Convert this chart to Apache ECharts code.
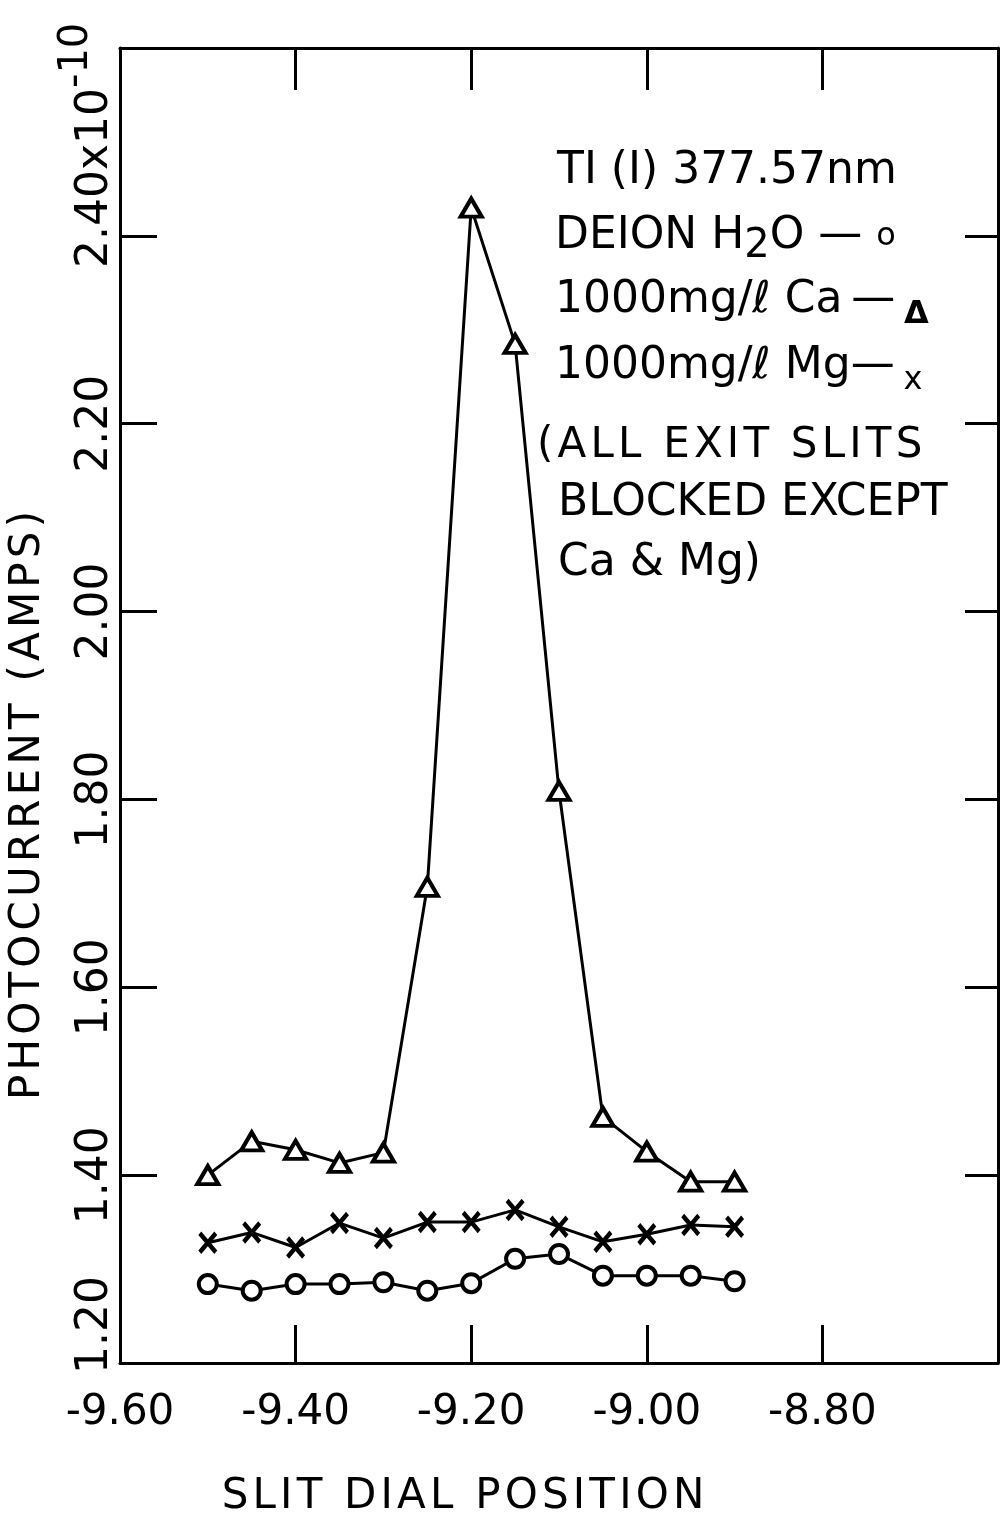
<!DOCTYPE html>
<html>
<head>
<meta charset="utf-8">
<script src="https://cdn.jsdelivr.net/npm/echarts@6/dist/echarts.min.js"></script>
<style>
  html, body { margin: 0; padding: 0; background: #ffffff; }
  #chart { width: 1002px; height: 1521px; }
</style>
</head>
<body>
<div id="chart"></div>
<script>
// Slit dial positions (x) and photocurrent readings (units of 1e-10 A)
const slitPositions = [-9.50, -9.45, -9.40, -9.35, -9.30, -9.25, -9.20, -9.15, -9.10, -9.05, -9.00, -8.95, -8.90];
const deionWater = [1.284, 1.277, 1.284, 1.284, 1.286, 1.277, 1.285, 1.311, 1.316, 1.293, 1.293, 1.293, 1.287];
const calcium    = [1.400, 1.436, 1.427, 1.413, 1.424, 1.707, 2.430, 2.285, 1.809, 1.462, 1.425, 1.393, 1.393];
const magnesium  = [1.328, 1.339, 1.323, 1.349, 1.333, 1.350, 1.350, 1.363, 1.345, 1.329, 1.337, 1.347, 1.345];

const xTickLabels = ['-9.60', '-9.40', '-9.20', '-9.00', '-8.80'];
const yTickLabels = ['1.20', '1.40', '1.60', '1.80', '2.00', '2.20', '2.40'];
const yScaleSuffix = ['x', '10', '-10'];

const xTitle = 'SLIT DIAL POSITION';
const yTitle = 'PHOTOCURRENT (AMPS)';

const FONT = '"DejaVu Sans", "Liberation Sans", sans-serif';
const HAIR = '\u200A';
const THIN = '\u2009';
const spaced = s => s.split('').join(HAIR);

const noteLines = [
  'TI (I) 377.57nm',
  '{n|DEION H}{sub|2}{n|O — }{o|o}',
  '{n|1000mg/ℓ Ca' + THIN + '—' + THIN + '}{tri|Δ}',
  '{n|1000mg/ℓ Mg—' + THIN + '}{sx|x}',
  '{w|' + spaced('(ALL EXIT SLITS') + '}',
  'BLOCKED EXCEPT',
  'Ca & Mg)'
];
const noteX = [557, 555, 555, 555, 537, 558, 558];
const noteY = [172, 237, 301, 367, 446, 504, 564];

const pts = ys => slitPositions.map((x, i) => [x, ys[i]]);

const chart = echarts.init(document.getElementById('chart'), null, { renderer: 'canvas' });

const axisLineStyle = { show: true, onZero: false, lineStyle: { color: '#000', width: 3 } };

const option = {
  animation: false,
  backgroundColor: '#ffffff',
  grid: {
    left: 120, right: 4, top: 48, bottom: 158,
    containLabel: false,
    outerBoundsMode: 'none'
  },
  xAxis: [
    {
      type: 'value', position: 'bottom',
      min: -9.6, max: -8.6, interval: 0.2,
      axisLine: axisLineStyle,
      axisTick: { show: true, inside: true, length: 38, lineStyle: { color: '#000', width: 3 } },
      splitLine: { show: false },
      axisLabel: {
        show: true, margin: 29, color: '#000', fontFamily: FONT, fontSize: 42, lineHeight: 42,
        formatter: v => {
          const i = Math.round((v + 9.6) / 0.2);
          return xTickLabels[i] || '';
        }
      },
      name: spaced(xTitle),
      nameLocation: 'middle',
      nameGap: 113,
      nameTextStyle: { color: '#000', fontFamily: FONT, fontSize: 42, lineHeight: 42, padding: [0, 192, 0, 0] }
    },
    {
      type: 'value', position: 'top',
      min: -9.6, max: -8.6, interval: 0.2,
      axisLine: axisLineStyle,
      axisTick: { show: true, inside: true, length: 42, lineStyle: { color: '#000', width: 3 } },
      axisLabel: { show: false },
      splitLine: { show: false }
    }
  ],
  yAxis: [
    {
      type: 'value', position: 'left',
      min: 1.2, max: 2.6, interval: 0.2,
      axisLine: axisLineStyle,
      axisTick: { show: true, inside: true, length: 37, lineStyle: { color: '#000', width: 3 } },
      splitLine: { show: false },
      axisLabel: {
        show: true, rotate: 90, margin: 2, color: '#000', fontFamily: FONT, fontSize: 44,
        formatter: v => {
          const i = Math.round((v - 1.2) / 0.2);
          const t = yTickLabels[i];
          if (!t) return '';
          if (i === 0) return '{p0| }{n|' + t + '}';
          if (i === yTickLabels.length - 1) {
            return '{pt| }{n|' + t + '}{n|' + yScaleSuffix[0] + '}{n|' + yScaleSuffix[1] + '}{sup|' + yScaleSuffix[2] + '}';
          }
          return '{n|' + t + '}';
        },
        rich: {
          n: { fontFamily: FONT, fontSize: 44, lineHeight: 50, verticalAlign: 'bottom', color: '#000' },
          sup: { fontFamily: FONT, fontSize: 40, verticalAlign: 'bottom', padding: [0, 0, 21, 0], color: '#000' },
          p0: { width: 76, lineHeight: 50, verticalAlign: 'bottom' },
          pt: { width: 181, lineHeight: 50, verticalAlign: 'bottom' }
        }
      },
      name: spaced(yTitle),
      nameLocation: 'middle',
      nameGap: 69,
      nameTextStyle: { color: '#000', fontFamily: FONT, fontSize: 42, lineHeight: 42, padding: [0, 200, 0, 0] }
    },
    {
      type: 'value', position: 'right',
      min: 1.2, max: 2.6, interval: 0.2,
      axisLine: axisLineStyle,
      axisTick: { show: true, inside: true, length: 33, lineStyle: { color: '#000', width: 3 } },
      axisLabel: { show: false },
      splitLine: { show: false }
    }
  ],
  series: [
    {
      name: 'DEION H2O', type: 'line', data: pts(deionWater),
      symbol: 'circle', symbolSize: 18, showAllSymbol: true,
      lineStyle: { color: '#000', width: 3 },
      itemStyle: { color: '#fff', borderColor: '#000', borderWidth: 4 },
      emphasis: { disabled: true }, z: 3
    },
    {
      name: 'Ca', type: 'line', data: pts(calcium),
      symbol: 'triangle', symbolSize: [21, 18], showAllSymbol: true,
      lineStyle: { color: '#000', width: 3 },
      itemStyle: { color: '#fff', borderColor: '#000', borderWidth: 4 },
      emphasis: { disabled: true }, z: 3
    },
    {
      name: 'Mg', type: 'line', data: pts(magnesium),
      symbol: 'path://M0,0L16,20M16,0L0,20', symbolSize: [16, 19], showAllSymbol: true,
      lineStyle: { color: '#000', width: 3 },
      itemStyle: { color: '#fff', borderColor: '#000', borderWidth: 4.5 },
      emphasis: { disabled: true }, z: 3
    }
  ],
  graphic: noteLines.map((line, i) => ({
    type: 'text',
    x: noteX[i], y: noteY[i],
    silent: true,
    style: {
      text: line,
      fill: '#000',
      fontFamily: FONT,
      fontSize: 44,
      lineHeight: 60,
      align: 'left',
      verticalAlign: 'middle',
      rich: {
        n: { fontFamily: FONT, fontSize: 44, lineHeight: 60, fill: '#000' },
        w: { fontFamily: FONT, fontSize: 42, lineHeight: 60, fill: '#000' },
        sub: { fontFamily: FONT, fontSize: 40, lineHeight: 40, verticalAlign: 'bottom', fill: '#000' },
        o: { fontFamily: FONT, fontSize: 32, lineHeight: 60, fill: '#000' },
        tri: { fontFamily: FONT, fontSize: 32, fontWeight: 'bold', lineHeight: 38, verticalAlign: 'bottom', fill: '#000' },
        sx: { fontFamily: FONT, fontSize: 32, lineHeight: 50, verticalAlign: 'bottom', fill: '#000' }
      }
    }
  }))
};

chart.setOption(option);
</script>
</body>
</html>
